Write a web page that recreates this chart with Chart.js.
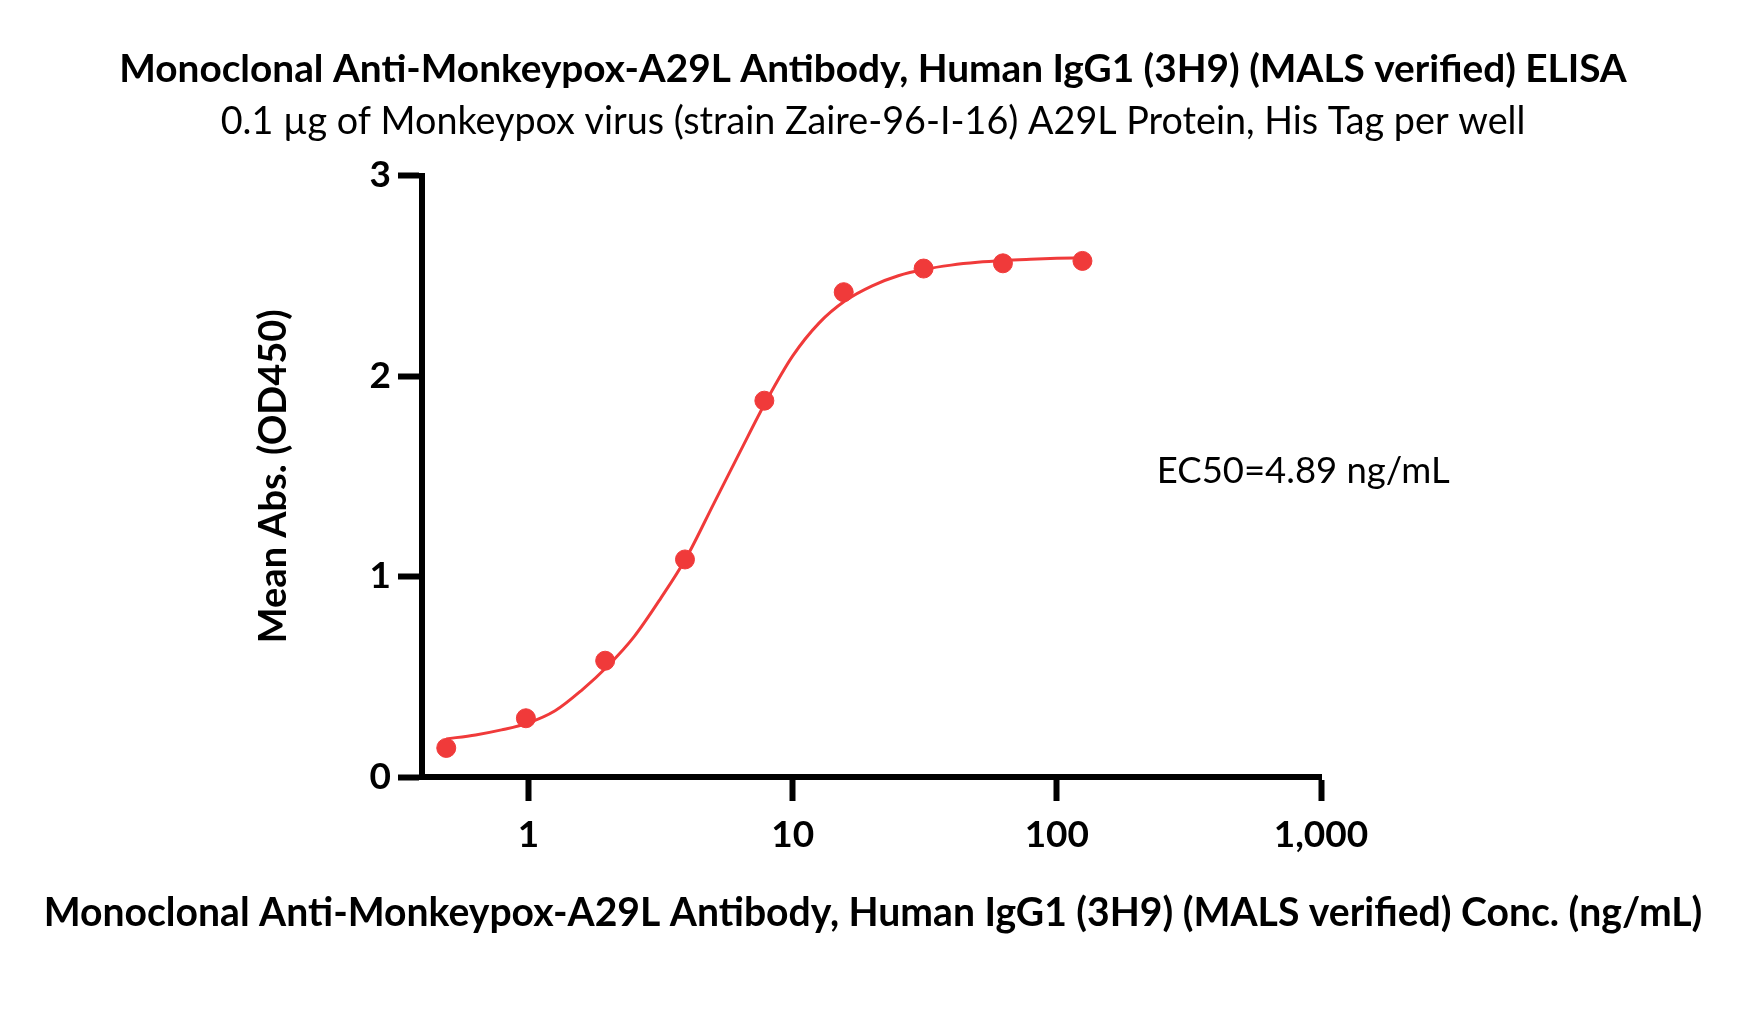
<!DOCTYPE html>
<html>
<head>
<meta charset="utf-8">
<script src="https://cdn.jsdelivr.net/npm/chart.js@4.4.0/dist/chart.umd.min.js"></script>
<style>
  body { margin: 0; background: #fff; }
  #wrap { width: 1746px; height: 1032px; }
</style>
</head>
<body>
<div id="wrap"><canvas id="myChart" width="1746" height="1032"></canvas></div>
<script>
// measured points (ng/mL vs OD450)
const concentrations = [0.488, 0.977, 1.95, 3.91, 7.81, 15.6, 31.3, 62.5, 125];
const meanAbs = [0.145, 0.293, 0.580, 1.085, 1.877, 2.418, 2.536, 2.562, 2.574];

// fitted curve
const fitConc = [0.488, 0.63, 0.79, 1, 1.26, 1.58, 2.0, 2.51, 3.16, 3.98, 5.01, 6.31, 7.94,
                 10, 12.6, 15.8, 20, 25.1, 31.6, 39.8, 50.1, 63.1, 79.4, 100, 125];
const fitAbs = [0.19, 0.21, 0.235, 0.27, 0.33, 0.43, 0.555, 0.70, 0.89, 1.10, 1.36, 1.62, 1.875,
                2.10, 2.265, 2.375, 2.45, 2.50, 2.532, 2.553, 2.567, 2.576, 2.582, 2.587, 2.59];

const xTicks = [1, 10, 100, 1000];
const yTicks = [0, 1, 2, 3];

const titleText = 'Monoclonal Anti-Monkeypox-A29L Antibody, Human IgG1 (3H9) (MALS verified) ELISA';
const subtitleText = '0.1 µg of Monkeypox virus (strain Zaire-96-I-16) A29L Protein, His Tag per well';
const xTitle = 'Monoclonal Anti-Monkeypox-A29L Antibody, Human IgG1 (3H9) (MALS verified) Conc. (ng/mL)';
const yTitle = 'Mean Abs. (OD450)';
const ec50Label = 'EC50=4.89 ng/mL';
const ec50LabelAt = [239, 1.525];

const red = 'rgb(240, 58, 58)';
const FONT = 'Lato';
Chart.defaults.font.family = FONT;
Chart.defaults.color = '#000';

// font size that makes a text a given width
function fitSize(text, weight, width) {
  const c = document.createElement('canvas').getContext('2d');
  c.font = weight + ' 100px ' + FONT;
  return 100 * width / c.measureText(text).width;
}

function build() {
  const sTitle = fitSize(titleText, 'bold', 1508);
  const sSub = fitSize(subtitleText, 'normal', 1305);
  const sX = fitSize(xTitle, 'bold', 1659);
  const sY = fitSize(yTitle, 'bold', 334);
  const sEc = fitSize(ec50Label, 'normal', 293);
  const titleY = 69, subY = 122;

  const extraText = {
    id: 'extraText',
    afterDraw(chart) {
      const c = chart.ctx;
      c.save();
      c.fillStyle = '#000';
      c.textBaseline = 'middle';
      c.textAlign = 'left';
      c.font = sEc + 'px ' + FONT;
      c.fillText(ec50Label,
        chart.scales.x.getPixelForValue(ec50LabelAt[0]),
        chart.scales.y.getPixelForValue(ec50LabelAt[1]));
      c.textAlign = 'center';
      c.font = 'bold ' + sX + 'px ' + FONT;
      c.fillText(xTitle, chart.width / 2, 913);
      c.restore();
    }
  };

  const ctx = document.getElementById('myChart').getContext('2d');
  new Chart(ctx, {
    type: 'scatter',
    data: {
      datasets: [{
        label: 'points',
        data: concentrations.map((c, i) => ({ x: c, y: meanAbs[i] })),
        backgroundColor: red,
        borderColor: red,
        pointRadius: 9.5,
        showLine: false,
        order: 1
      }, {
        label: 'fit',
        data: fitConc.map((c, i) => ({ x: c, y: fitAbs[i] })),
        borderColor: red,
        borderWidth: 3,
        pointRadius: 0,
        showLine: true,
        cubicInterpolationMode: 'monotone',
        order: 2
      }]
    },
    options: {
      responsive: false,
      animation: false,
      layout: { padding: 0 },
      plugins: {
        legend: { display: false },
        tooltip: { enabled: false },
        title: {
          display: true,
          text: titleText,
          font: { size: sTitle, weight: 'bold', lineHeight: 1.2 },
          color: '#000',
          padding: { top: titleY - 0.6 * sTitle, bottom: 0 }
        },
        subtitle: {
          display: true,
          text: subtitleText,
          font: { size: sSub, weight: 'normal', lineHeight: 1.2 },
          color: '#000',
          padding: { top: subY - titleY - 0.6 * sTitle - 0.6 * sSub, bottom: 175.5 - subY - 0.6 * sSub }
        }
      },
      scales: {
        x: {
          type: 'logarithmic',
          position: 'bottom',
          min: 0.395,
          max: 1000,
          afterBuildTicks: s => { s.ticks = xTicks.map(v => ({ value: v })); },
          afterFit: s => { s.height = 1032 - 777; },
          ticks: {
            autoSkip: false,
            maxRotation: 0,
            padding: 12,
            font: { size: 37, weight: 'bold' },
            color: '#000',
            callback: v => Number(v).toLocaleString('en-US')
          },
          grid: { drawOnChartArea: false, drawTicks: true, tickLength: 24, tickWidth: 6, tickColor: '#000' },
          border: { display: true, width: 6, color: '#000' }
        },
        y: {
          position: 'left',
          min: 0,
          max: 3,
          afterBuildTicks: s => { s.ticks = yTicks.map(v => ({ value: v })); },
          afterFit: s => { s.width = 422; },
          ticks: {
            padding: 7,
            font: { size: 37, weight: 'bold' },
            color: '#000'
          },
          grid: { drawOnChartArea: false, drawTicks: true, tickLength: 24, tickWidth: 6, tickColor: '#000' },
          border: { display: true, width: 6, color: '#000' },
          title: {
            display: true,
            text: yTitle,
            font: { size: sY, weight: 'bold', lineHeight: 1.2 },
            color: '#000',
            padding: { top: 274 - 0.6 * sY, bottom: 0 }
          }
        },
        // empty space on the right of the plot
        yRight: {
          position: 'right',
          display: true,
          afterFit: s => { s.width = 1746 - 1321; },
          ticks: { display: false },
          grid: { display: false, drawTicks: false },
          border: { display: false }
        }
      }
    },
    plugins: [extraText]
  });
}

Promise.all([
  document.fonts.load('bold 30px ' + FONT),
  document.fonts.load('30px ' + FONT)
]).then(build, build);
</script>
</body>
</html>
